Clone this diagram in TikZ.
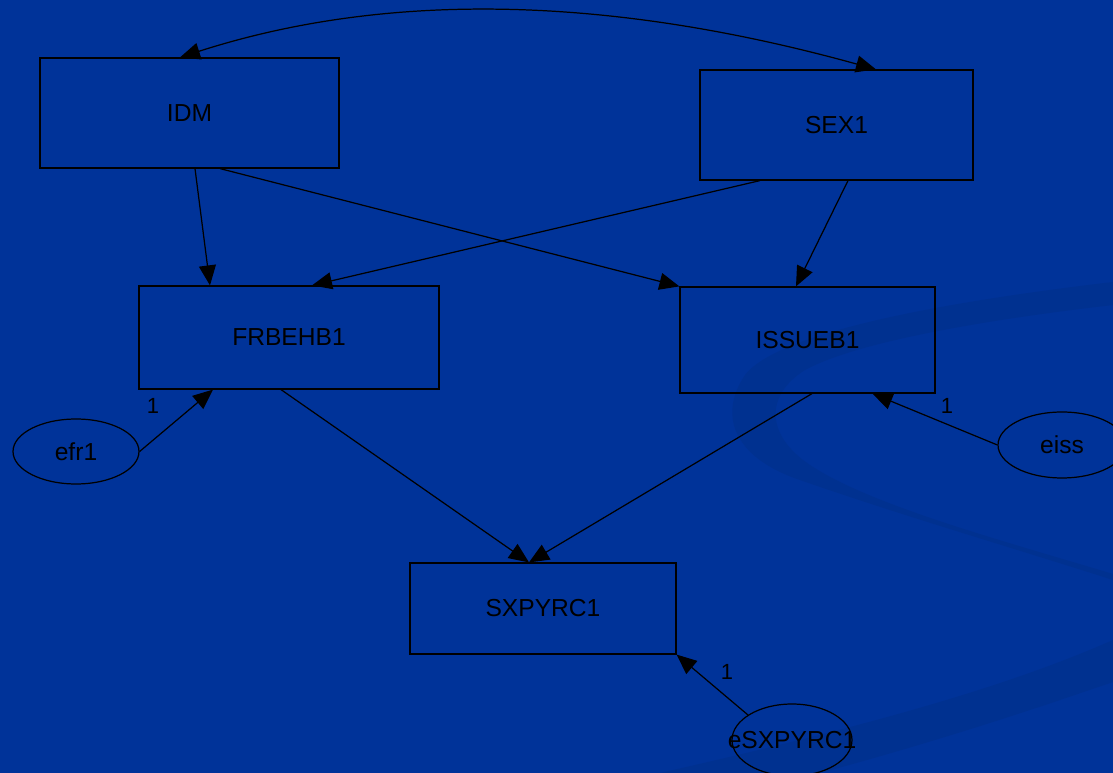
\documentclass[tikz,border=0pt]{standalone}
\usepackage{fontspec}
\setmainfont{Liberation Sans}
\usepackage{tikz}
\usetikzlibrary{calc,shapes.geometric,arrows.meta}
\definecolor{slide}{HTML}{003399}
\definecolor{swoosh}{HTML}{003190}
\definecolor{ink}{HTML}{000000}
\tikzset{
  semFont/.style={text=ink, font=\fontsize{14}{16}\selectfont},
  semVar/.style={draw=ink, line width=0.7pt, rectangle, inner sep=0pt, semFont},
  semErr/.style={draw=ink, line width=0.7pt, ellipse, inner sep=0pt},
  semPath/.style={draw=ink, line width=0.7pt, -{Triangle[length=4mm,width=3.4mm]}},
  semCov/.style={draw=ink, line width=0.7pt,
    {Triangle[length=4mm,width=3.4mm]}-{Triangle[length=4mm,width=3.4mm]}},
  semWeight/.style={text=ink, font=\fontsize{12.5}{14}\selectfont, inner sep=0pt}
}

\begin{document}
\begin{tikzpicture}[x=0.02cm, y=-0.02cm]
  \useasboundingbox (0,0) rectangle (1113,773);
  \fill[slide] (0,0) rectangle (1113,773);

  % background swoosh
  \fill[swoosh] (1113,282) .. controls (960,300) and (780,330) .. (745,375)
    .. controls (715,420) and (740,460) .. (800,480)
    .. controls (900,515) and (1020,550) .. (1113,580)
    -- (1113,574) .. controls (1000,540) and (870,505) .. (810,465)
    .. controls (765,435) and (765,395) .. (805,370)
    .. controls (860,340) and (1000,318) .. (1113,305) -- cycle;
  \fill[swoosh] (1113,640) .. controls (1000,690) and (850,730) .. (660,773)
    -- (820,773) .. controls (960,735) and (1060,700) .. (1113,682) -- cycle;

  % observed variables
  \node[semVar, minimum width=5.98cm, minimum height=2.2cm]  (IDM)     at (189.5,113) {IDM};
  \node[semVar, minimum width=5.46cm, minimum height=2.2cm]  (SEX1)    at (836.5,125) {SEX1};
  \node[semVar, minimum width=6cm,    minimum height=2.06cm] (FRBEHB1) at (289,337.5) {FRBEHB1};
  \node[semVar, minimum width=5.1cm,  minimum height=2.12cm] (ISSUEB1) at (807.5,340) {ISSUEB1};
  \node[semVar, minimum width=5.32cm, minimum height=1.82cm] (SXPYRC1) at (543,608.5) {SXPYRC1};

  % error terms
  \node[semErr, minimum width=2.52cm, minimum height=1.3cm,
    label={[semFont]center:efr1}] (efr1) at (76,451.5) {};
  \node[semErr, minimum width=2.56cm, minimum height=1.32cm,
    label={[semFont]center:eiss}] (eiss) at (1062,445) {};
  \node[semErr, minimum width=2.4cm, minimum height=1.44cm,
    label={[semFont]center:eSXPYRC1}] (eSXPYRC1) at (792,740) {};

  % covariance
  \draw[semCov] ($(IDM.north)+(-9.5,0)$) .. controls (380,-7) and (600,-7) .. ($(SEX1.north)+(39.5,0)$);

  % paths
  \draw[semPath] ($(IDM.south)+(5.5,0)$) -- ($(FRBEHB1.north)+(-79,0)$);
  \draw[semPath] ($(IDM.south)+(30.5,0)$) -- (ISSUEB1.north west);
  \draw[semPath] ($(SEX1.south)+(-76.5,0)$) -- ($(FRBEHB1.north)+(23,0)$);
  \draw[semPath] ($(SEX1.south)+(11.5,0)$) -- ($(ISSUEB1.north)+(-11.5,0)$);
  \draw[semPath] ($(FRBEHB1.south)+(-8,0)$) -- ($(SXPYRC1.north)+(-14,0)$);
  \draw[semPath] ($(ISSUEB1.south)+(4.5,0)$) -- ($(SXPYRC1.north)+(-14,0)$);

  % error paths
  \draw[semPath] (efr1.east) -- ($(FRBEHB1.south)+(-76,0)$);
  \draw[semPath] (eiss.west) -- ($(ISSUEB1.south)+(65,0)$);
  \draw[semPath] ($(eSXPYRC1.center)+(-44,-25)$) -- (SXPYRC1.south east);

  \node[semWeight] (w1) at (153,406) {1};
  \node[semWeight] (w2) at (947,406) {1};
  \node[semWeight] (w3) at (727,672) {1};
\end{tikzpicture}
\end{document}
